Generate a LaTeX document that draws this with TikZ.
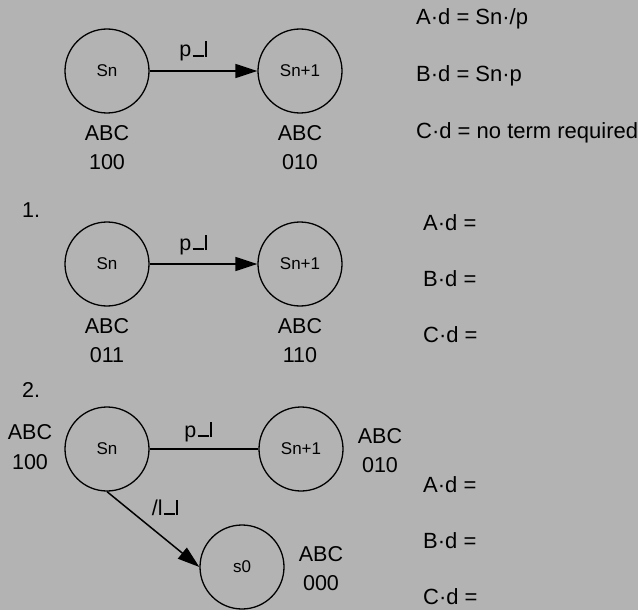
\documentclass[tikz,border=0pt]{standalone}
\usepackage{fontspec}
\setmainfont{Liberation Sans}
\usetikzlibrary{arrows.meta}
\newcommand{\redge}{\kern1.2pt\rule{11pt}{1.8pt}\kern1.2pt\rule{1.9pt}{15.5pt}}
\begin{document}
\begin{tikzpicture}[x=1pt,y=-1pt,
  state/.style={circle,draw,line width=1.3pt,minimum size=84pt,inner sep=0pt,font=\fontsize{17}{20}\selectfont},
  lbl/.style={anchor=base,inner sep=0pt,font=\fontsize{21.5}{25}\selectfont},
  eq/.style={anchor=base west,inner sep=0pt,font=\fontsize{22}{26}\selectfont},
  conn/.style={line width=1.5pt},
  arr/.style={conn,-{Triangle[length=22pt,width=14pt]}}]
\fill[fill={rgb,255:red,179;green,179;blue,179}] (0,0) rectangle (638,610);
\useasboundingbox (0,0) rectangle (638,610);
% section 0
\node[state] (a1) at (107,71) {Sn};
\node[state] (a2) at (300,71) {Sn+1};
\draw[arr] (a1) -- (a2);
\node[lbl] (ap) at (193,57) {p\redge};
\node[lbl] (aabc1) at (107,141) {ABC};
\node[lbl] (av1) at (107,169) {100};
\node[lbl] (aabc2) at (300,141) {ABC};
\node[lbl] (av2) at (300,169) {010};
\node[eq] (ae1) at (416,25) {A·d = Sn·/p};
\node[eq] (ae2) at (416,82) {B·d = Sn·p};
\node[eq] (ae3) at (416,139) {C·d = no term required};
% section 1
\node[lbl,anchor=base west] (n1) at (22,217) {1.};
\node[state] (b1) at (107,264) {Sn};
\node[state] (b2) at (300,264) {Sn+1};
\draw[arr] (b1) -- (b2);
\node[lbl] (bp) at (193,250) {p\redge};
\node[lbl] (babc1) at (107,333) {ABC};
\node[lbl] (bv1) at (107,362) {011};
\node[lbl] (babc2) at (300,333) {ABC};
\node[lbl] (bv2) at (300,362) {110};
\node[eq] (be1) at (423,230) {A·d =};
\node[eq] (be2) at (423,286) {B·d =};
\node[eq] (be3) at (423,342) {C·d =};
% section 2
\node[lbl,anchor=base west] (n2) at (22,397) {2.};
\node[state] (c1) at (107,449) {Sn};
\node[state] (c2) at (301,449) {Sn+1};
\node[state] (c3) at (242,567) {s0};
\draw[conn] (c1) -- (c2);
\draw[arr] (c1.south) -- (c3.west);
\node[lbl] (cp) at (198,437) {p\redge};
\node[lbl] (cl) at (165,515) {/l\redge};
\node[lbl] (cabc1) at (30,439) {ABC};
\node[lbl] (cv1) at (30,469) {100};
\node[lbl] (cabc2) at (380,443) {ABC};
\node[lbl] (cv2) at (380,472) {010};
\node[lbl] (cabc3) at (321,561) {ABC};
\node[lbl] (cv3) at (321,590) {000};
\node[eq] (ce1) at (423,492) {A·d =};
\node[eq] (ce2) at (423,548) {B·d =};
\node[eq] (ce3) at (423,604) {C·d =};
\end{tikzpicture}
\end{document}
